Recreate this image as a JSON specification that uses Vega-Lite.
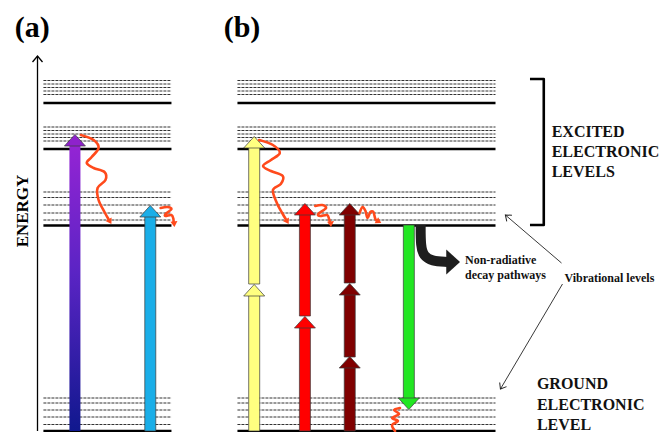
{
  "$schema": "https://vega.github.io/schema/vega-lite/v6.json",
  "width": 665,
  "height": 432,
  "autosize": "none",
  "padding": 0,
  "background": "white",
  "config": {"view": {"stroke": null}, "text": {"font": "Liberation Serif, Times New Roman, DejaVu Serif, serif"}},
  "datasets": {
    "levels": [
      {"x": 39, "xb": 169, "y": 103, "kind": "solid"},
      {"x": 39, "xb": 169, "y": 149, "kind": "solid"},
      {"x": 39, "xb": 169, "y": 225.5, "kind": "solid"},
      {"x": 39, "xb": 169, "y": 431, "kind": "solid"},
      {"x": 236, "xb": 498, "y": 103, "kind": "solid"},
      {"x": 236, "xb": 498, "y": 149, "kind": "solid"},
      {"x": 236, "xb": 498, "y": 225.5, "kind": "solid"},
      {"x": 236, "xb": 498, "y": 431, "kind": "solid"},
      {"x": 39, "xb": 169, "y": 80.5, "kind": "vib"},
      {"x": 39, "xb": 169, "y": 84, "kind": "vib"},
      {"x": 39, "xb": 169, "y": 87.5, "kind": "vib"},
      {"x": 39, "xb": 169, "y": 91, "kind": "vib"},
      {"x": 39, "xb": 169, "y": 94.5, "kind": "vib"},
      {"x": 39, "xb": 169, "y": 127, "kind": "vib"},
      {"x": 39, "xb": 169, "y": 130.5, "kind": "vib"},
      {"x": 39, "xb": 169, "y": 134, "kind": "vib"},
      {"x": 39, "xb": 169, "y": 137.5, "kind": "vib"},
      {"x": 39, "xb": 169, "y": 141, "kind": "vib"},
      {"x": 39, "xb": 169, "y": 192, "kind": "vib"},
      {"x": 39, "xb": 169, "y": 197.5, "kind": "vib"},
      {"x": 39, "xb": 169, "y": 205, "kind": "vib"},
      {"x": 39, "xb": 169, "y": 213, "kind": "vib"},
      {"x": 39, "xb": 169, "y": 220, "kind": "vib"},
      {"x": 39, "xb": 169, "y": 398, "kind": "vib"},
      {"x": 39, "xb": 169, "y": 403, "kind": "vib"},
      {"x": 39, "xb": 169, "y": 410, "kind": "vib"},
      {"x": 39, "xb": 169, "y": 417, "kind": "vib"},
      {"x": 39, "xb": 169, "y": 424.5, "kind": "vib"},
      {"x": 236, "xb": 498, "y": 80.5, "kind": "vib"},
      {"x": 236, "xb": 498, "y": 84, "kind": "vib"},
      {"x": 236, "xb": 498, "y": 87.5, "kind": "vib"},
      {"x": 236, "xb": 498, "y": 91, "kind": "vib"},
      {"x": 236, "xb": 498, "y": 94.5, "kind": "vib"},
      {"x": 236, "xb": 498, "y": 127, "kind": "vib"},
      {"x": 236, "xb": 498, "y": 130.5, "kind": "vib"},
      {"x": 236, "xb": 498, "y": 134, "kind": "vib"},
      {"x": 236, "xb": 498, "y": 137.5, "kind": "vib"},
      {"x": 236, "xb": 498, "y": 141, "kind": "vib"},
      {"x": 236, "xb": 498, "y": 192, "kind": "vib"},
      {"x": 236, "xb": 498, "y": 197.5, "kind": "vib"},
      {"x": 236, "xb": 498, "y": 205, "kind": "vib"},
      {"x": 236, "xb": 498, "y": 213, "kind": "vib"},
      {"x": 236, "xb": 498, "y": 220, "kind": "vib"},
      {"x": 236, "xb": 498, "y": 398, "kind": "vib"},
      {"x": 236, "xb": 498, "y": 403, "kind": "vib"},
      {"x": 236, "xb": 498, "y": 410, "kind": "vib"},
      {"x": 236, "xb": 498, "y": 417, "kind": "vib"},
      {"x": 236, "xb": 498, "y": 424.5, "kind": "vib"}
    ],
    "energyAxis": [{"x": 33, "y": 431, "yb": 56}],
    "shafts": [
      {"beam": "violet", "x": 71, "y": 431, "yb": 145},
      {"beam": "cyan", "x": 147.5, "y": 431, "yb": 216},
      {"beam": "yellow", "x": 253, "y": 431, "yb": 295},
      {"beam": "yellow", "x": 253, "y": 284, "yb": 147},
      {"beam": "red", "x": 304.5, "y": 431, "yb": 327},
      {"beam": "red", "x": 304.5, "y": 316, "yb": 214},
      {"beam": "maroon", "x": 350, "y": 431, "yb": 367},
      {"beam": "maroon", "x": 350, "y": 357, "yb": 294},
      {"beam": "maroon", "x": 350, "y": 283, "yb": 214},
      {"beam": "green", "x": 410, "y": 225, "yb": 399}
    ],
    "heads": [
      {"beam": "violet", "x": 71, "y": 146, "dir": "up"},
      {"beam": "cyan", "x": 147.5, "y": 217, "dir": "up"},
      {"beam": "yellow", "x": 253, "y": 296, "dir": "up"},
      {"beam": "yellow", "x": 253, "y": 148, "dir": "up"},
      {"beam": "red", "x": 304.5, "y": 328, "dir": "up"},
      {"beam": "red", "x": 304.5, "y": 215, "dir": "up"},
      {"beam": "maroon", "x": 350, "y": 368, "dir": "up"},
      {"beam": "maroon", "x": 350, "y": 295, "dir": "up"},
      {"beam": "maroon", "x": 350, "y": 215, "dir": "up"},
      {"beam": "green", "x": 410, "y": 398, "dir": "down"}
    ],
    "waves": [
      {"id": "a1", "i": 0, "x": 77, "y": 135},
      {"id": "a1", "i": 1, "x": 90, "y": 140},
      {"id": "a1", "i": 2, "x": 95, "y": 148},
      {"id": "a1", "i": 3, "x": 88, "y": 157},
      {"id": "a1", "i": 4, "x": 83, "y": 163},
      {"id": "a1", "i": 5, "x": 90, "y": 168},
      {"id": "a1", "i": 6, "x": 101, "y": 172},
      {"id": "a1", "i": 7, "x": 102, "y": 180},
      {"id": "a1", "i": 8, "x": 94, "y": 188},
      {"id": "a1", "i": 9, "x": 95, "y": 200},
      {"id": "a1", "i": 10, "x": 101, "y": 212},
      {"id": "a1", "i": 11, "x": 105, "y": 219},
      {"id": "a2", "i": 0, "x": 158, "y": 208},
      {"id": "a2", "i": 1, "x": 165, "y": 207},
      {"id": "a2", "i": 2, "x": 169, "y": 209},
      {"id": "a2", "i": 3, "x": 163, "y": 214},
      {"id": "a2", "i": 4, "x": 163, "y": 216},
      {"id": "a2", "i": 5, "x": 169, "y": 215},
      {"id": "a2", "i": 6, "x": 171, "y": 219},
      {"id": "a2", "i": 7, "x": 171, "y": 223},
      {"id": "b1", "i": 0, "x": 258, "y": 140},
      {"id": "b1", "i": 1, "x": 272, "y": 145},
      {"id": "b1", "i": 2, "x": 279, "y": 153},
      {"id": "b1", "i": 3, "x": 270, "y": 160},
      {"id": "b1", "i": 4, "x": 262, "y": 166},
      {"id": "b1", "i": 5, "x": 270, "y": 171},
      {"id": "b1", "i": 6, "x": 282, "y": 176},
      {"id": "b1", "i": 7, "x": 280, "y": 184},
      {"id": "b1", "i": 8, "x": 272, "y": 190},
      {"id": "b1", "i": 9, "x": 276, "y": 203},
      {"id": "b1", "i": 10, "x": 282, "y": 214},
      {"id": "b1", "i": 11, "x": 285, "y": 219},
      {"id": "b2", "i": 0, "x": 315, "y": 206},
      {"id": "b2", "i": 1, "x": 322, "y": 205},
      {"id": "b2", "i": 2, "x": 326, "y": 208},
      {"id": "b2", "i": 3, "x": 318, "y": 214},
      {"id": "b2", "i": 4, "x": 320, "y": 216},
      {"id": "b2", "i": 5, "x": 327, "y": 215},
      {"id": "b2", "i": 6, "x": 329, "y": 219},
      {"id": "b2", "i": 7, "x": 330, "y": 223},
      {"id": "b3", "i": 0, "x": 360, "y": 213},
      {"id": "b3", "i": 1, "x": 363, "y": 207},
      {"id": "b3", "i": 2, "x": 366, "y": 211},
      {"id": "b3", "i": 3, "x": 368, "y": 218},
      {"id": "b3", "i": 4, "x": 371, "y": 212},
      {"id": "b3", "i": 5, "x": 374, "y": 212},
      {"id": "b3", "i": 6, "x": 376, "y": 219},
      {"id": "b3", "i": 7, "x": 378, "y": 221},
      {"id": "b4", "i": 0, "x": 401, "y": 408},
      {"id": "b4", "i": 1, "x": 395, "y": 410},
      {"id": "b4", "i": 2, "x": 400, "y": 414},
      {"id": "b4", "i": 3, "x": 393, "y": 418},
      {"id": "b4", "i": 4, "x": 399, "y": 421},
      {"id": "b4", "i": 5, "x": 393, "y": 425},
      {"id": "b4", "i": 6, "x": 396, "y": 431}
    ],
    "waveHeads": [
      {"x": 108, "y": 224, "deg": 150},
      {"x": 172, "y": 227, "deg": 175},
      {"x": 288, "y": 224, "deg": 150},
      {"x": 331, "y": 227, "deg": 175},
      {"x": 382, "y": 223, "deg": 120}
    ],
    "decay": [
      {"i": 0, "x": 422, "y": 225},
      {"i": 1, "x": 422, "y": 246},
      {"i": 2, "x": 425, "y": 256},
      {"i": 3, "x": 433, "y": 261},
      {"i": 4, "x": 449, "y": 262}
    ],
    "decayHead": [{"x": 448, "y": 262}],
    "bracket": [
      {"i": 0, "x": 533, "y": 79},
      {"i": 1, "x": 547, "y": 79},
      {"i": 2, "x": 547, "y": 225},
      {"i": 3, "x": 533, "y": 225}
    ],
    "pointers": [
      {"x": 565, "y": 263, "xb": 508, "yb": 215, "deg": 310},
      {"x": 566, "y": 284, "xb": 503, "yb": 389, "deg": 211}
    ],
    "labels": [
      {"text": "(a)", "x": 10, "y": 28, "role": "panel"},
      {"text": "(b)", "x": 222, "y": 28, "role": "panel"},
      {"text": "ENERGY", "x": 18, "y": 211, "role": "energy"},
      {"text": "EXCITED", "x": 555, "y": 132, "role": "level"},
      {"text": "ELECTRONIC", "x": 555, "y": 152, "role": "level"},
      {"text": "LEVELS", "x": 555, "y": 172, "role": "level"},
      {"text": "GROUND", "x": 540, "y": 384, "role": "level"},
      {"text": "ELECTRONIC", "x": 540, "y": 405, "role": "level"},
      {"text": "LEVEL", "x": 540, "y": 425, "role": "level"},
      {"text": "Non-radiative", "x": 467, "y": 260, "role": "note"},
      {"text": "decay pathways", "x": 467, "y": 275, "role": "note"},
      {"text": "Vibrational levels", "x": 568, "y": 278, "role": "note"}
    ]
  },
  "encoding": {
    "x": {"field": "x", "type": "quantitative", "scale": {"domain": [0, 665], "nice": false, "zero": false}, "axis": null},
    "y": {"field": "y", "type": "quantitative", "scale": {"domain": [0, 432], "nice": false, "zero": false, "reverse": true}, "axis": null}
  },
  "layer": [
    {
      "data": {"name": "levels"},
      "transform": [{"filter": "datum.kind === 'vib'"}],
      "mark": {"type": "rule", "strokeDash": [3, 1], "strokeWidth": 1, "color": "#333333"},
      "encoding": {"x2": {"field": "xb"}}
    },
    {
      "data": {"name": "levels"},
      "transform": [{"filter": "datum.kind === 'solid'"}],
      "mark": {"type": "rule", "strokeWidth": 2.6, "color": "#000000"},
      "encoding": {"x2": {"field": "xb"}}
    },
    {
      "data": {"name": "energyAxis"},
      "mark": {"type": "rule", "strokeWidth": 1.3, "color": "#000000"},
      "encoding": {"y2": {"field": "yb"}}
    },
    {
      "data": {"name": "energyAxis"},
      "mark": {"type": "point", "shape": "M-1,1.2L0,0L1,1.2", "size": 100, "filled": false, "stroke": "#000000", "strokeWidth": 1.3, "opacity": 1},
      "encoding": {"y": {"field": "yb", "type": "quantitative"}}
    },
    {
      "data": {"name": "shafts"},
      "transform": [{"filter": "datum.beam === 'violet'"}],
      "mark": {
        "type": "bar", "orient": "vertical", "width": 11,
        "fill": {"gradient": "linear", "x1": 0, "y1": 0, "x2": 0, "y2": 1,
          "stops": [
            {"offset": 0, "color": "#9424d4"},
            {"offset": 0.45, "color": "#5a24c4"},
            {"offset": 1, "color": "#10188e"}
          ]}
      },
      "encoding": {"y2": {"field": "yb"}}
    },
    {
      "data": {"name": "shafts"},
      "transform": [{"filter": "datum.beam !== 'violet'"}],
      "mark": {"type": "bar", "orient": "vertical", "width": 11, "stroke": "#3a3a3a", "strokeWidth": 0.7},
      "encoding": {
        "y2": {"field": "yb"},
        "color": {"field": "beam", "type": "nominal", "legend": null,
          "scale": {"domain": ["violet", "cyan", "yellow", "red", "maroon", "green"],
                    "range": ["#8e22cc", "#1aaee8", "#ffff80", "#ff0000", "#800000", "#22e622"]}}
      }
    },
    {
      "data": {"name": "heads"},
      "transform": [{"filter": "datum.dir === 'up'"}],
      "mark": {"type": "point", "shape": "M-1,0L1,0L0,-1.1Z", "size": 441, "filled": true, "opacity": 1, "stroke": "#3a3a3a", "strokeWidth": 0.7},
      "encoding": {"color": {"field": "beam", "type": "nominal", "legend": null}}
    },
    {
      "data": {"name": "heads"},
      "transform": [{"filter": "datum.dir === 'down'"}],
      "mark": {"type": "point", "shape": "M-1,0L1,0L0,-1.1Z", "size": 441, "angle": 180, "filled": true, "opacity": 1, "stroke": "#3a3a3a", "strokeWidth": 0.7},
      "encoding": {"color": {"field": "beam", "type": "nominal", "legend": null}}
    },
    {
      "data": {"name": "waves"},
      "mark": {"type": "line", "interpolate": "cardinal", "strokeWidth": 2.6, "color": "#ff4a1c", "strokeCap": "round"},
      "encoding": {"detail": {"field": "id"}, "order": {"field": "i", "type": "quantitative"}}
    },
    {
      "data": {"name": "waveHeads"},
      "mark": {"type": "point", "shape": "M0,0L-1,1.6L1,1.6Z", "size": 49, "filled": true, "opacity": 1, "color": "#ff4a1c"},
      "encoding": {"angle": {"field": "deg", "type": "quantitative", "scale": null}}
    },
    {
      "data": {"name": "decay"},
      "mark": {"type": "line", "interpolate": "basis", "strokeWidth": 10, "color": "#1e1e1e", "strokeCap": "butt"},
      "encoding": {"order": {"field": "i", "type": "quantitative"}}
    },
    {
      "data": {"name": "decayHead"},
      "mark": {"type": "point", "shape": "M-1,0L1,0L0,-1.1Z", "size": 625, "angle": 90, "filled": true, "opacity": 1, "color": "#1e1e1e"}
    },
    {
      "data": {"name": "bracket"},
      "mark": {"type": "line", "strokeWidth": 2.6, "color": "#000000", "strokeJoin": "round"},
      "encoding": {"order": {"field": "i", "type": "quantitative"}}
    },
    {
      "data": {"name": "pointers"},
      "mark": {"type": "rule", "strokeWidth": 0.9, "color": "#222222"},
      "encoding": {"x2": {"field": "xb"}, "y2": {"field": "yb"}}
    },
    {
      "data": {"name": "pointers"},
      "mark": {"type": "point", "shape": "M-1,1.3L0,0L1,1.3", "size": 64, "filled": false, "opacity": 1, "stroke": "#222222", "strokeWidth": 1},
      "encoding": {
        "x": {"field": "xb", "type": "quantitative"},
        "y": {"field": "yb", "type": "quantitative"},
        "angle": {"field": "deg", "type": "quantitative", "scale": null}
      }
    },
    {
      "data": {"name": "labels"},
      "transform": [{"filter": "datum.role === 'panel'"}],
      "mark": {"type": "text", "fontWeight": "bold", "fontSize": 30, "align": "left", "baseline": "middle", "color": "#000000"},
      "encoding": {"text": {"field": "text"}}
    },
    {
      "data": {"name": "labels"},
      "transform": [{"filter": "datum.role === 'energy'"}],
      "mark": {"type": "text", "fontWeight": "bold", "fontSize": 17, "align": "center", "baseline": "middle", "angle": 270, "color": "#000000"},
      "encoding": {"text": {"field": "text"}}
    },
    {
      "data": {"name": "labels"},
      "transform": [{"filter": "datum.role === 'level'"}],
      "mark": {"type": "text", "fontWeight": "bold", "fontSize": 16, "align": "left", "baseline": "middle", "color": "#111111"},
      "encoding": {"text": {"field": "text"}}
    },
    {
      "data": {"name": "labels"},
      "transform": [{"filter": "datum.role === 'note'"}],
      "mark": {"type": "text", "fontWeight": "bold", "fontSize": 12, "align": "left", "baseline": "middle", "color": "#111111"},
      "encoding": {"text": {"field": "text"}}
    }
  ]
}
